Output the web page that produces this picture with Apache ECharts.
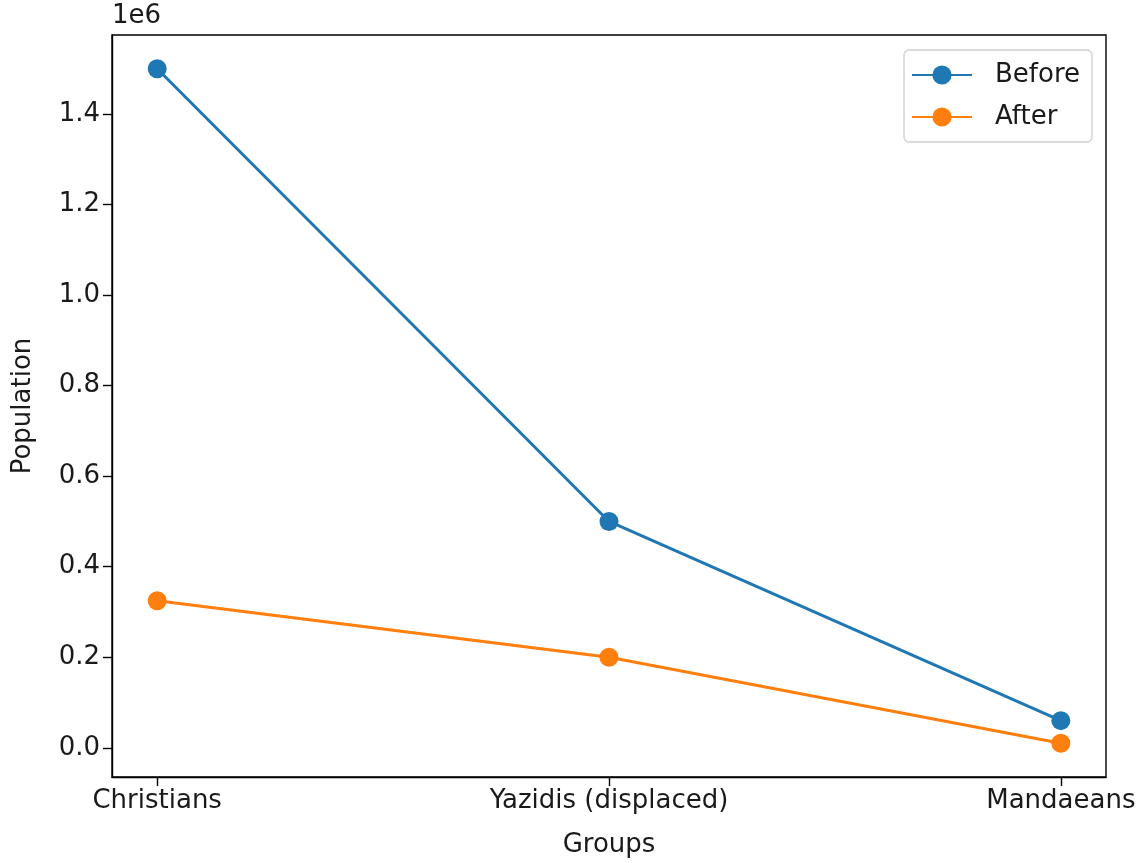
<!DOCTYPE html>
<html>
<head>
<meta charset="utf-8">
<script src="https://cdn.jsdelivr.net/npm/echarts@6/dist/echarts.min.js"></script>
<style>html,body{margin:0;padding:0;background:#fff;}#c{width:1148px;height:863px;}</style>
</head>
<body>
<div id="c"></div>
<script>
const categories = ['Christians', 'Yazidis (displaced)', 'Mandaeans'];
const before = [1500000, 500000, 60000];
const after = [325000, 200000, 10000];
const yTicks = [0, 200000, 400000, 600000, 800000, 1000000, 1200000, 1400000];
const xTicks = [0, 1, 2];

const FONT = 'DejaVu Sans';
const TXT = '#1a1a1a';
const FS = 26;
const chart = echarts.init(document.getElementById('c'), null, {renderer: 'canvas'});
const toPairs = arr => arr.map((v, i) => [i, v]);
const axisLine = {show: true, onZero: false, lineStyle: {color: '#000', width: 1.4}};

chart.setOption({
  animation: false,
  backgroundColor: '#fff',
  textStyle: {fontFamily: FONT},
  graphic: [{
    type: 'text', left: 112, top: 3,
    style: {text: '1e6', fontSize: FS, fontFamily: FONT, fill: TXT}
  }],
  grid: {left: 112, right: 42, top: 35, bottom: 86, show: true, borderColor: '#000', borderWidth: 1.4, backgroundColor: 'transparent'},
  legend: {
    orient: 'vertical', right: 56, top: 50,
    itemWidth: 60, itemHeight: 24, itemGap: 16,
    padding: [12, 12, 12, 7],
    borderColor: '#d0d0d0', borderWidth: 1.4, borderRadius: 5,
    textStyle: {fontSize: FS, fontFamily: FONT, color: TXT, padding: [0, 0, 0, 18]},
    data: ['Before', 'After']
  },
  xAxis: {
    type: 'value', min: -0.1, max: 2.1,
    name: 'Groups', nameLocation: 'middle', nameGap: 55,
    nameTextStyle: {fontSize: FS, fontFamily: FONT, color: TXT},
    axisLine: axisLine,
    splitLine: {show: false},
    axisTick: {show: true, customValues: xTicks, length: 9, lineStyle: {color: '#000', width: 1.4}},
    axisLabel: {customValues: xTicks, fontSize: FS, fontFamily: FONT, color: TXT, margin: 11,
      formatter: v => categories[Math.round(v)]}
  },
  yAxis: {
    type: 'value', min: -64500, max: 1574500,
    name: 'Population', nameLocation: 'middle', nameGap: 76,
    nameTextStyle: {fontSize: FS, fontFamily: FONT, color: TXT},
    axisLine: axisLine,
    splitLine: {show: false},
    axisTick: {show: true, customValues: yTicks, length: 9, lineStyle: {color: '#000', width: 1.4}},
    axisLabel: {customValues: yTicks, fontSize: FS, fontFamily: FONT, color: TXT, margin: 12,
      formatter: v => (v / 1e6).toFixed(1)}
  },
  series: [
    {name: 'Before', type: 'line', data: toPairs(before), symbol: 'circle', symbolSize: 19,
      lineStyle: {color: '#1f77b4', width: 3}, itemStyle: {color: '#1f77b4'}},
    {name: 'After', type: 'line', data: toPairs(after), symbol: 'circle', symbolSize: 19,
      lineStyle: {color: '#ff7f0e', width: 3}, itemStyle: {color: '#ff7f0e'}}
  ]
});
</script>
</body>
</html>
